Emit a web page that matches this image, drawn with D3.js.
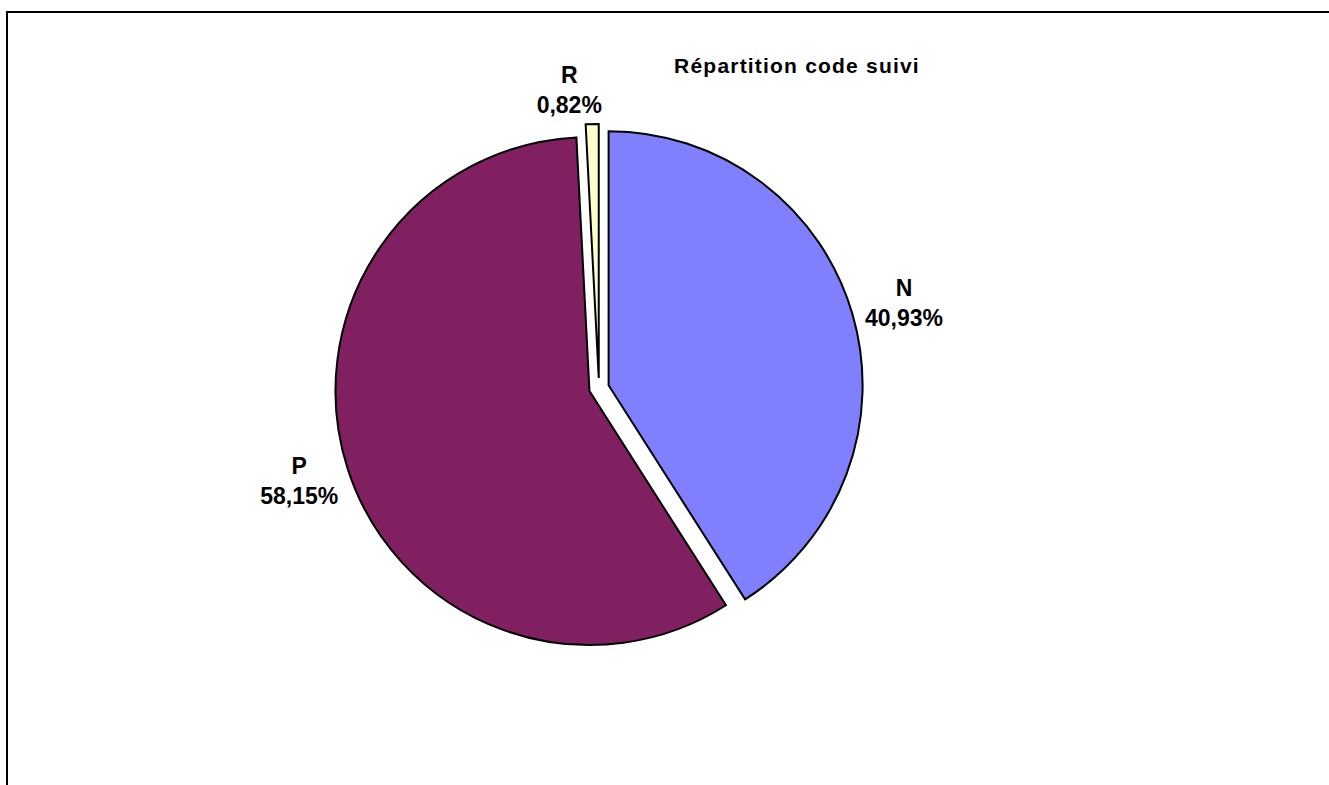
<!DOCTYPE html>
<html>
<head>
<meta charset="utf-8">
<script src="https://cdn.jsdelivr.net/npm/d3@7"></script>
<style>
  html, body { margin: 0; padding: 0; background: #fff; }
  svg { display: block; }
  text { font-family: "Liberation Sans", Arial, sans-serif; font-weight: bold; fill: #000; }
</style>
</head>
<body>
<svg id="chart" width="1329" height="785"></svg>
<script>
const titleText = "Répartition code suivi";
const categories = ["N", "P", "R"];
const values = [40.93, 58.15, 0.82];
const colors = ["#8080FF", "#802060", "#FFFFCC"];
const labelShiftX = [17, -14, -22];
const labelShiftY = [0, 3, 3];

const svg = d3.select("#chart");

// chart frame
svg.append("rect")
  .attr("x", 7).attr("y", 12)
  .attr("width", 1340).attr("height", 800)
  .attr("fill", "none").attr("stroke", "#000").attr("stroke-width", 2);

svg.append("text")
  .attr("x", 797).attr("y", 73)
  .attr("text-anchor", "middle")
  .style("font-size", "21px")
  .style("letter-spacing", "1.2px")
  .text(titleText);

const cx = 599, cy = 388, radius = 254, explode = 10;

const pie = d3.pie().sort(null).value(d => d.v);
const data = categories.map((c, i) => ({ c, v: values[i], color: colors[i], i }));
const arcs = pie(data);
const arc = d3.arc().innerRadius(0).outerRadius(radius);

const g = svg.append("g").attr("transform", `translate(${cx},${cy})`);

g.selectAll("path")
  .data(arcs)
  .join("path")
  .attr("transform", d => {
    const a = (d.startAngle + d.endAngle) / 2;
    return `translate(${explode * Math.sin(a)},${-explode * Math.cos(a)})`;
  })
  .attr("d", arc)
  .attr("fill", d => d.data.color)
  .attr("stroke", "#000")
  .attr("stroke-width", 2)
  .attr("stroke-linejoin", "miter");

const labelRadius = 300;
const fmt = v => d3.format(".2f")(v).replace(".", ",") + "%";

arcs.forEach(d => {
  const a = (d.startAngle + d.endAngle) / 2;
  const x = cx + labelRadius * Math.sin(a) + labelShiftX[d.data.i];
  const y = cy - labelRadius * Math.cos(a) + labelShiftY[d.data.i];
  const t = svg.append("text")
    .attr("text-anchor", "middle")
    .style("font-size", "23px");
  t.append("tspan").attr("x", x).attr("y", y - 8).text(d.data.c);
  t.append("tspan").attr("x", x).attr("y", y + 22).text(fmt(d.data.v));
});
</script>
</body>
</html>
